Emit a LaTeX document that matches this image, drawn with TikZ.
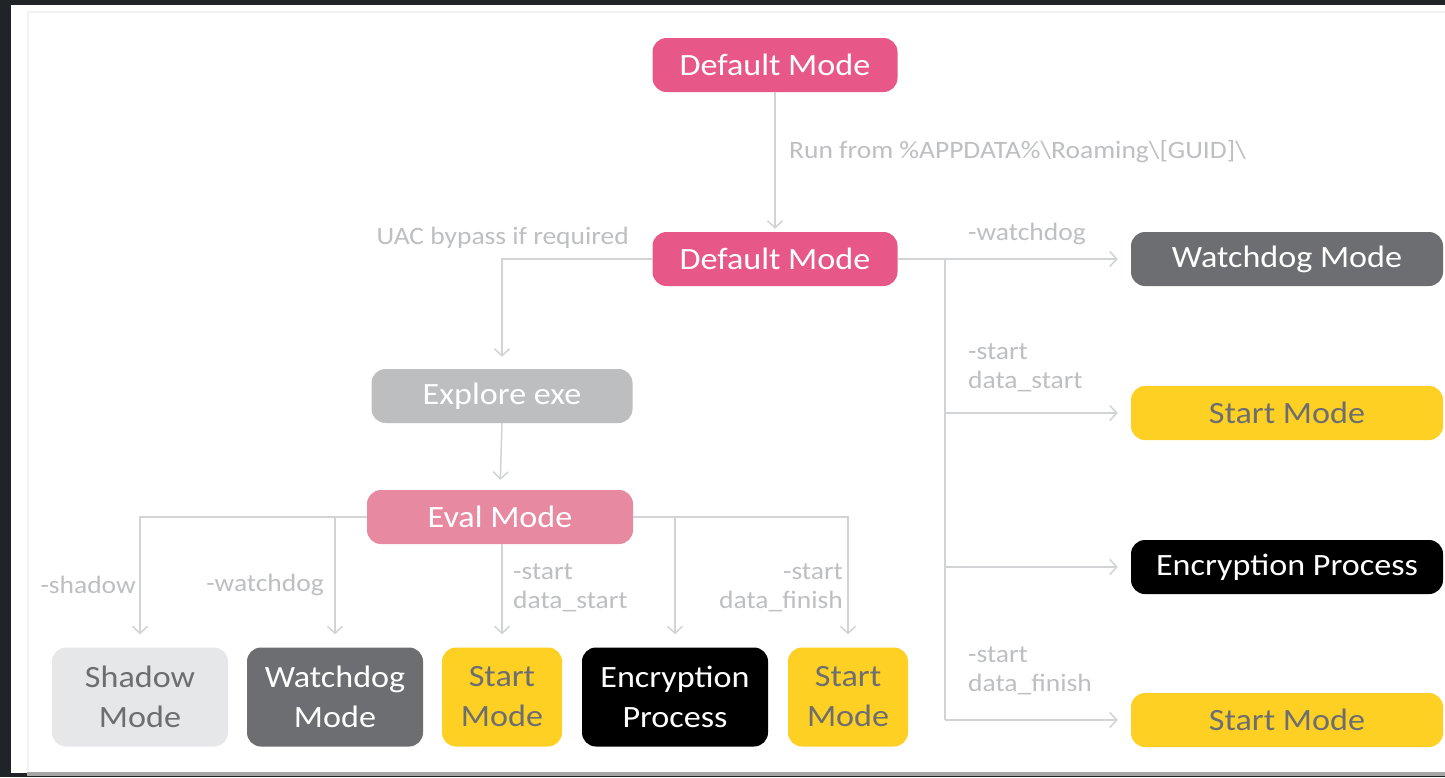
\documentclass[tikz,border=0pt]{standalone}
\usepackage{fontspec}
\setmainfont{Carlito}[FakeStretch=1.1]
\usetikzlibrary{arrows.meta}

\definecolor{pagebg}{HTML}{202328}
\definecolor{modepink}{HTML}{E75788}
\definecolor{evalpink}{HTML}{E789A0}
\definecolor{darkgray}{HTML}{6D6E71}
\definecolor{midgray}{HTML}{BCBEC0}
\definecolor{palegray}{HTML}{E6E7E8}
\definecolor{modeyellow}{HTML}{FDD023}
\definecolor{linec}{HTML}{D1D3D4}
\definecolor{labelc}{HTML}{BEBFC1}

\tikzset{
  modebox/.style={rounded corners=14pt, minimum height=54pt, inner sep=0pt,
    align=center, font=\fontsize{31}{40}\selectfont},
  tallbox/.style={modebox, minimum height=99pt},
  pinkbox/.style={fill=modepink, text=white},
  evalbox/.style={fill=evalpink, text=white},
  greybox/.style={fill=darkgray, text=white},
  explbox/.style={fill=midgray, text=white},
  palebox/.style={fill=palegray, text=darkgray},
  yellowbox/.style={fill=modeyellow, text=darkgray},
  blackbox/.style={fill=black, text=white},
  lbl/.style={text=labelc, inner sep=0pt, align=left,
    font=\fontsize{25}{29}\selectfont},
  link/.style={draw=linec, line width=1.5pt},
  arr/.style={link, -{Straight Barb[length=7pt,width=15pt,line width=1.5pt]}}
}

\begin{document}
\begin{tikzpicture}[x=1pt, y=-1pt]
  % page background and card
  \fill[pagebg] (0,0) rectangle (1445,777);
  \useasboundingbox (0,0) rectangle (1445,777);
  \fill[white] (11,5) rectangle (1445,773);
  \fill[black!5] (27,11) rectangle (1445,773);
  \fill[white] (29,13) rectangle (1445,772);
  \fill[black!35] (27,772) rectangle (1445,776);

  % main column
  \node[modebox, pinkbox, minimum width=245pt] (d1) at (775,65) {Default Mode};
  \node[modebox, pinkbox, minimum width=245pt] (d2) at (775,259) {Default Mode};
  \node[modebox, explbox, minimum width=261pt] (ex) at (502,396) {Explore exe};
  \node[modebox, evalbox, minimum width=266pt] (ev) at (500,517) {Eval Mode};

  % right column
  \node[modebox, greybox, minimum width=312pt] (rwd) at (1287,259) {Watchdog Mode};
  \node[modebox, yellowbox, minimum width=312pt] (rs1) at (1287,413) {Start Mode};
  \node[modebox, blackbox, minimum width=312pt] (ren) at (1287,567) {Encryption Process};
  \node[modebox, yellowbox, minimum width=312pt] (rs2) at (1287,720) {Start Mode};

  % bottom row
  \node[tallbox, palebox, minimum width=176pt] (bsh) at (140,697) {Shadow\\Mode};
  \node[tallbox, greybox, minimum width=176pt] (bwd) at (335,697) {Watchdog\\Mode};
  \node[tallbox, yellowbox, minimum width=120pt] (bs1) at (502,697) {Start\\Mode};
  \node[tallbox, blackbox, minimum width=186pt] (ben) at (675,697) {Encryption\\Process};
  \node[tallbox, yellowbox, minimum width=120pt] (bs2) at (848,697) {Start\\Mode};

  % branch points of the right-hand bus
  \coordinate (bus) at (945,259);
  \coordinate (busend) at (945,720);

  % connectors
  \draw[arr, shorten >=3pt] (d1.south) -- (d2.north);
  \draw[arr, shorten >=12pt] (d2.west) -| (ex.north);
  \draw[arr, shorten >=13pt] (d2.east) -- (rwd.west);
  \draw[link] (bus) -- (busend);
  \draw[arr, shorten >=13pt] (bus |- rs1.west) -- (rs1.west);
  \draw[arr, shorten >=13pt] (bus |- ren.west) -- (ren.west);
  \draw[arr, shorten >=13pt] (busend) -- (rs2.west);
  \draw[arr, shorten >=10pt] (ex.south) -- (ev.north);

  \draw[arr, shorten >=13pt] (ev.west) -| (bsh.north);
  \draw[arr, shorten >=13pt] (bwd.north |- ev.west) -- (bwd.north);
  \draw[arr, shorten >=13pt] (bs1.north |- ev.south) -- (bs1.north);
  \draw[arr, shorten >=13pt] (ben.north |- ev.east) -- (ben.north);
  \draw[arr, shorten >=13pt] (ev.east) -| (bs2.north);

  % connector labels
  \node[lbl, anchor=west] (l1) at (789,152) {Run from \%APPDATA\%\textbackslash Roaming\textbackslash[GUID]\textbackslash};
  \node[lbl, anchor=east] (l2) at (629,238) {UAC bypass if required};
  \node[lbl, anchor=west] (l3) at (968,234) {-watchdog};
  \node[lbl, anchor=north west] (l4) at (968,343) {-start\\data\_start};
  \node[lbl, anchor=north west] (l5) at (968,646) {-start\\data\_finish};
  \node[lbl, anchor=east] (l6) at (136,585) {-shadow};
  \node[lbl, anchor=east] (l7) at (324,585) {-watchdog};
  \node[lbl, anchor=north west] (l8) at (513,563) {-start\\data\_start};
  \node[lbl, anchor=north east, align=right] (l9) at (843,563) {-start\\data\_finish};
\end{tikzpicture}
\end{document}
